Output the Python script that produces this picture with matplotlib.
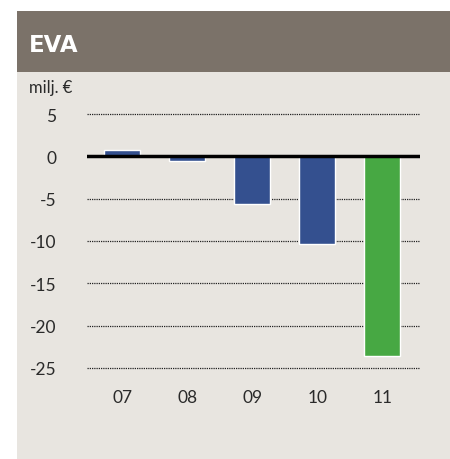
import matplotlib
matplotlib.use("Agg")
import matplotlib.pyplot as plt
from matplotlib.patches import Rectangle

years = ["07", "08", "09", "10", "11"]
eva = [0.7, -0.5, -5.6, -10.3, -23.6]
bar_colors = ["#34508f", "#34508f", "#34508f", "#34508f", "#47a843"]
yticks = [5, 0, -5, -10, -15, -20, -25]
title = "EVA"
unit_label = "milj. €"

W, H = 450, 460
fig = plt.figure(figsize=(W / 100, H / 100), dpi=100)
fig.patch.set_facecolor("white")

# background panel and header band
fig.patches.append(Rectangle((17 / W, 0), 1 - 17 / W, 1 - 73 / H,
                             transform=fig.transFigure, facecolor="#e8e5e0",
                             edgecolor="none", zorder=-2))
fig.patches.append(Rectangle((17 / W, 1 - 73 / H), 1 - 17 / W, 61 / H,
                             transform=fig.transFigure, facecolor="#7b7269",
                             edgecolor="none", zorder=-2))
fig.text(29 / W, 1 - 45 / H, title, color="white", fontsize=16.5,
         fontweight="bold", family="DejaVu Sans", va="center", ha="left")
fig.text(29 / W, 1 - 88 / H, unit_label, color="#2a2a2a", fontsize=12,
         family="Lato", va="center", ha="left")

ax = fig.add_axes([87 / W, 1 - 369 / H, (420 - 87) / W, (369 - 115) / H])
ax.set_facecolor("none")
x = list(range(len(years)))
ax.bar(x, eva, width=0.55, color=bar_colors, edgecolor="white",
       linewidth=1.0, zorder=3)
ax.set_xlim(-0.54, 4.58)
ax.set_ylim(-25, 5)
ax.set_yticks(yticks)
ax.set_yticklabels([str(v) for v in yticks])
ax.set_xticks(x)
ax.set_xticklabels(years)
for t in ax.get_xticklabels() + ax.get_yticklabels():
    t.set_family("Lato")
    t.set_fontsize(12.5)
    t.set_color("#2a2a2a")
ax.tick_params(axis="both", length=0)
ax.tick_params(axis="y", pad=22)
ax.tick_params(axis="x", pad=15)
for v in yticks:
    if v != 0:
        ax.axhline(v, color="#222222", linestyle=(0, (1, 0.8)), linewidth=0.9,
                   zorder=1, clip_on=False)
ax.axhline(0, color="black", linewidth=2.5, zorder=4, xmax=0.995)
for s in ax.spines.values():
    s.set_visible(False)

fig.savefig("out.png", dpi=100)
